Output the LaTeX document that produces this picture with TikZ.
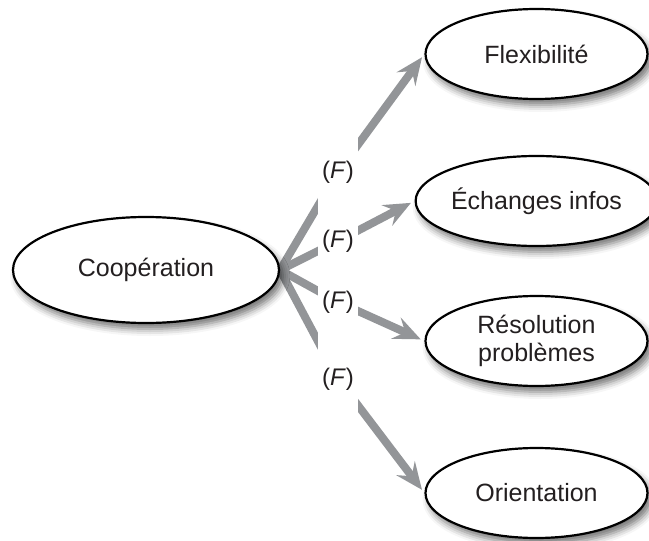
\documentclass[tikz,border=0pt]{standalone}
\usepackage{fontspec}
\setmainfont{Liberation Sans}
\usetikzlibrary{shapes.geometric,arrows.meta,backgrounds,shadows.blur}
\definecolor{linkgray}{RGB}{147,149,152}
\definecolor{inkdark}{RGB}{35,31,32}
\begin{document}
\begin{tikzpicture}[x=1pt,y=-1pt,
  bubble/.style={ellipse, draw=black, line width=2.2pt, fill=white, inner sep=0pt,
    minimum width=222pt, minimum height=90pt, align=center, text=inkdark,
    font=\fontsize{25}{28}\selectfont,
    blur shadow={shadow xshift=4pt, shadow yshift=-6pt, shadow blur radius=7pt, shadow opacity=55}},
  flabel/.style={rectangle, fill=white, inner sep=0pt, minimum width=40pt,
    minimum height=80pt, text=inkdark, font=\fontsize{24}{28}\selectfont},
  link/.style={draw=linkgray, line width=8pt, line join=miter},
  linkarrow/.style={link, -{Stealth[length=27pt,width=23pt,inset=10pt]}, shorten >=4pt}
]
\useasboundingbox (0,0) rectangle (649,541);

% source and target bubbles
\node[bubble, minimum width=266pt, minimum height=106pt] (coop) at (146,270) {Coopération};
\node[bubble] (flex) at (536.5,54)  {Flexibilité};
\node[bubble] (echg) at (536.5,201) {Échanges infos};
\node[bubble] (reso) at (536.5,341) {Résolution\\problèmes};
\node[bubble] (orie) at (536.5,493) {Orientation};

% (F) labels, each masking a gap in its link
\node[flabel] (F1) at (338,172) {(\textit{F})};
\node[flabel] (F2) at (338,241) {(\textit{F})};
\node[flabel] (F3) at (338,302) {(\textit{F})};
\node[flabel] (F4) at (338,379) {(\textit{F})};

% links run behind the labels and bubbles
\begin{pgfonlayer}{background}
  \draw[linkarrow] (coop.east) -- (F1.center) -- (flex.west);
  \draw[linkarrow] (coop.east) -- (F2.center) -- (echg.west);
  \draw[linkarrow] (coop.east) -- (F3.center) -- (reso.west);
  \draw[linkarrow] (coop.east) -- (F4.center) -- (orie.west);
\end{pgfonlayer}
\end{tikzpicture}
\end{document}
